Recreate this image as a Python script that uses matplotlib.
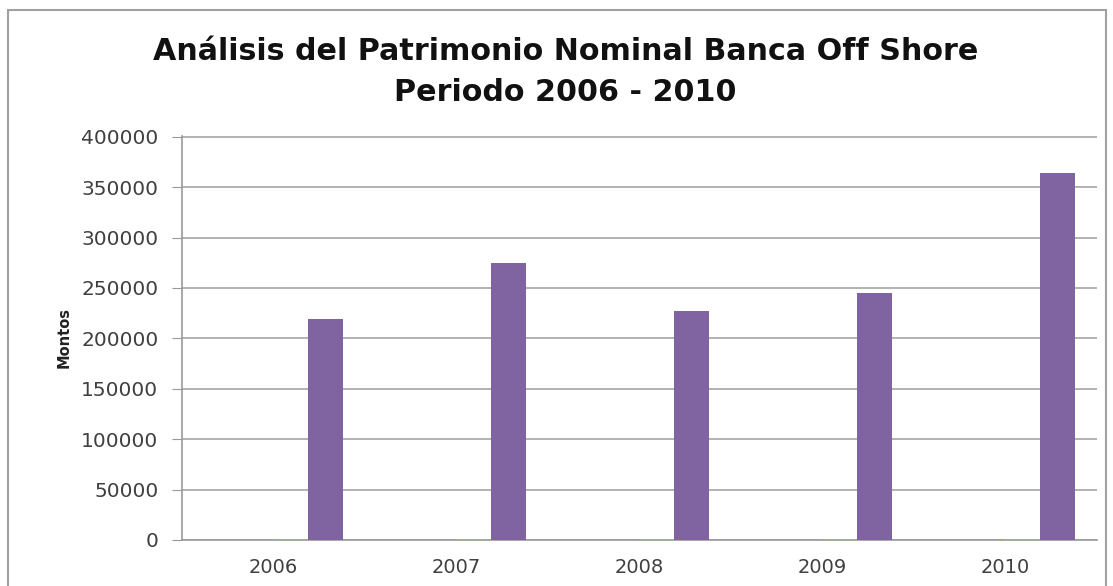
import numpy as np
import matplotlib.pyplot as plt
from matplotlib.patches import Rectangle

years = ['2006', '2007', '2008', '2009', '2010']
# four series per year; only the last one carries visible amounts
serie_1 = [0, 0, 0, 0, 0]
serie_2 = [0, 0, 0, 0, 0]
serie_3 = [1200, 1300, 1200, 1200, 1300]
serie_4 = [219000, 274500, 227000, 245000, 364500]
yticks = [0, 50000, 100000, 150000, 200000, 250000, 300000, 350000, 400000]

series = [serie_1, serie_2, serie_3, serie_4]
colors = ['#4F81BD', '#C0504D', '#9BBB59', '#8064A2']

fig = plt.figure(figsize=(11.13, 5.86), dpi=100)
ax = fig.add_axes([0.1635, 0.0785, 0.822, 0.6895])

x = np.arange(len(years))
w = 0.19
for i, (vals, c) in enumerate(zip(series, colors)):
    ax.bar(x + (i - 1.5) * w, vals, width=w, color=c, zorder=3)

ax.set_xlim(-0.5, len(years) - 0.5)
ax.set_ylim(0, 400800)
ax.set_yticks(yticks)
ax.set_yticklabels([str(v) for v in yticks])
ax.set_xticks(x)
ax.set_xticklabels(years)

ax.yaxis.grid(True, color='#a6a6a6', linewidth=1.2, zorder=0)
for s in ['top', 'right']:
    ax.spines[s].set_visible(False)
ax.spines['left'].set_color('#999999')
ax.spines['bottom'].set_color('#999999')
ax.spines['left'].set_linewidth(1.2)
ax.spines['bottom'].set_linewidth(1.2)
ax.tick_params(axis='y', length=7, color='#999999', labelsize=14.5, labelcolor='#404040', pad=10)
ax.tick_params(axis='x', length=0, labelsize=14, labelcolor='#404040', pad=13)

ax.set_ylabel('Montos', fontsize=10.5, fontweight='bold', color='#222222', labelpad=7)

fig.text(0.508, 0.912, 'Análisis del Patrimonio Nominal Banca Off Shore',
         ha='center', va='center', fontsize=21.7, fontweight='bold', color='#111111')
fig.text(0.508, 0.843, 'Periodo 2006 - 2010',
         ha='center', va='center', fontsize=21.7, fontweight='bold', color='#111111')

# chart area frame, cut off at the bottom
fig.patches.append(Rectangle((8 / 1113, -0.1), 1098 / 1113, 1.1 - 10 / 586,
                             transform=fig.transFigure, fill=False,
                             edgecolor='#a0a0a0', linewidth=1.5))

fig.savefig('out.png', dpi=100)
